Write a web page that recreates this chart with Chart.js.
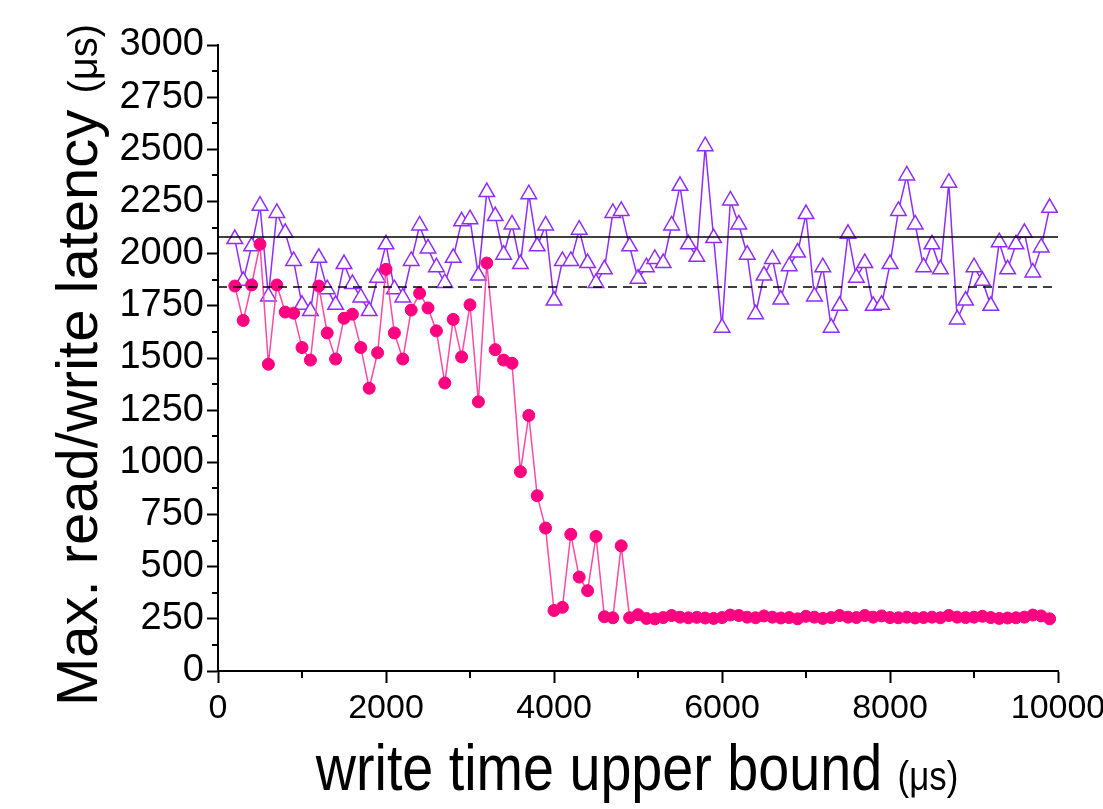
<!DOCTYPE html>
<html>
<head>
<meta charset="utf-8">
<script src="https://cdn.jsdelivr.net/npm/chart.js@4.4.1/dist/chart.umd.min.js"></script>
<style>
  html, body { margin: 0; padding: 0; background: #fff; }
  #wrap { width: 1103px; height: 809px; }
</style>
</head>
<body>
<div id="wrap"><canvas id="graph" width="1103" height="809"></canvas></div>
<script>
// write time upper bound (us)
const writeBound = [
  200, 300, 400, 500, 600, 700, 800, 900, 1000, 1100,
  1200, 1300, 1400, 1500, 1600, 1700, 1800, 1900, 2000, 2100,
  2200, 2300, 2400, 2500, 2600, 2700, 2800, 2900, 3000, 3100,
  3200, 3300, 3400, 3500, 3600, 3700, 3800, 3900, 4000, 4100,
  4200, 4300, 4400, 4500, 4600, 4700, 4800, 4900, 5000, 5100,
  5200, 5300, 5400, 5500, 5600, 5700, 5800, 5900, 6000, 6100,
  6200, 6300, 6400, 6500, 6600, 6700, 6800, 6900, 7000, 7100,
  7200, 7300, 7400, 7500, 7600, 7700, 7800, 7900, 8000, 8100,
  8200, 8300, 8400, 8500, 8600, 8700, 8800, 8900, 9000, 9100,
  9200, 9300, 9400, 9500, 9600, 9700, 9800, 9900
];

// open triangles (purple)
const triLatency = [
  2070, 1870, 2035, 2230, 1795, 2195, 2100, 1965, 1755, 1725,
  1980, 1830, 1755, 1950, 1855, 1790, 1725, 1885, 2045, 1830,
  1790, 1965, 2135, 2025, 1935, 1860, 1980, 2155, 2165, 1895,
  2295, 2180, 1995, 2140, 1950, 2285, 2035, 2135, 1775, 1965,
  1965, 2115, 1955, 1860, 1925, 2195, 2205, 2035, 1880, 1935,
  1975, 1955, 2135, 2325, 2045, 1985, 2515, 2075, 1645, 2255,
  2140, 1995, 1710, 1895, 1975, 1780, 1940, 2005, 2190, 1795,
  1935, 1645, 1750, 2095, 1885, 1955, 1750, 1755, 1950, 2205,
  2375, 2140, 1935, 2045, 1925, 2340, 1685, 1775, 1935, 1870,
  1750, 2055, 1925, 2045, 2100, 1910, 2030, 2220
];

// filled circles (pink)
const dotLatency = [
  1845, 1680, 1850, 2045, 1470, 1850, 1720, 1715, 1550, 1490,
  1845, 1620, 1495, 1690, 1710, 1550, 1355, 1525, 1925, 1620,
  1495, 1730, 1810, 1740, 1630, 1380, 1685, 1505, 1755, 1290,
  1955, 1540, 1490, 1475, 955, 1225, 840, 685, 290, 305,
  655, 450, 385, 645, 260, 255, 600, 255, 270, 252,
  250, 256, 266, 258, 255, 257, 254, 252, 256, 268,
  266, 258, 255, 264, 258, 254, 256, 250, 262, 258,
  252, 256, 266, 258, 256, 266, 258, 264, 256, 255,
  258, 254, 256, 258, 255, 266, 258, 256, 258, 262,
  256, 252, 254, 255, 258, 268, 264, 250
];

// reference levels
const refRange = [0, 10000];
const solidLevel = 2080;
const dashedLevel = 1840;

const yMinorTicks = [125, 375, 625, 875, 1125, 1375, 1625, 1875, 2125, 2375, 2625, 2875];
const xMinorTicks = [1000, 3000, 5000, 7000, 9000];

const PURPLE = '#8f2dfc';
const PINK = '#ff0080';
const PINK_LINE = '#ff4aa5';
const SANS = "'Liberation Sans', Arial, sans-serif";

function toPoints(xs, ys) {
  return xs.map((x, i) => ({ x: x, y: ys[i] }));
}

const minorTicks = {
  id: 'minorTicks',
  afterDraw(chart) {
    const ctx = chart.ctx;
    const xs = chart.scales.x, ys = chart.scales.y;
    const area = chart.chartArea;
    ctx.save();
    ctx.strokeStyle = '#000';
    ctx.lineWidth = 2;
    ctx.beginPath();
    yMinorTicks.forEach(v => {
      const py = Math.round(ys.getPixelForValue(v));
      ctx.moveTo(area.left - 6, py);
      ctx.lineTo(area.left, py);
    });
    xMinorTicks.forEach(v => {
      const px = Math.round(xs.getPixelForValue(v));
      ctx.moveTo(px, area.bottom);
      ctx.lineTo(px, area.bottom + 7);
    });
    ctx.stroke();
    ctx.restore();
  }
};

// axis titles with a smaller unit part; sx squeezes the text horizontally
function mixedText(ctx, parts, cx, cy, rotate, sx) {
  ctx.save();
  ctx.translate(cx, cy);
  if (rotate) ctx.rotate(-Math.PI / 2);
  ctx.scale(sx, 1);
  ctx.fillStyle = '#000';
  ctx.textBaseline = 'alphabetic';
  ctx.textAlign = 'left';
  let total = 0;
  parts.forEach(p => { ctx.font = p.font; p.w = ctx.measureText(p.text).width; total += p.w; });
  let x = -total / 2;
  parts.forEach(p => { ctx.font = p.font; ctx.fillText(p.text, x, 0); x += p.w; });
  ctx.restore();
}

const axisTitles = {
  id: 'axisTitles',
  afterDraw(chart) {
    const ctx = chart.ctx;
    mixedText(ctx, [
      { text: 'write time upper bound ', font: '64px ' + SANS },
      { text: '(\u03bcs)', font: '40px ' + SANS }
    ], 637, 790, false, 0.87);
    mixedText(ctx, [
      { text: 'Max. read/write latency ', font: '58px ' + SANS },
      { text: '(\u03bcs)', font: '40px ' + SANS }
    ], 97, 365, true, 1);
  }
};

new Chart(document.getElementById('graph'), {
  type: 'line',
  data: {
    datasets: [
      {
        label: 'solid',
        data: toPoints(refRange, [solidLevel, solidLevel]),
        borderColor: '#000',
        borderWidth: 1.5,
        pointRadius: 0,
        fill: false
      },
      {
        label: 'dashed',
        data: toPoints(refRange, [dashedLevel, dashedLevel]),
        borderColor: '#000',
        borderWidth: 1.5,
        borderDash: [9, 6],
        pointRadius: 0,
        fill: false
      },
      {
        label: 'circles',
        data: toPoints(writeBound, dotLatency),
        borderColor: PINK_LINE,
        borderWidth: 1.5,
        pointStyle: 'circle',
        pointRadius: 6,
        pointBackgroundColor: PINK,
        pointBorderColor: PINK,
        pointBorderWidth: 1,
        tension: 0,
        fill: false
      },
      {
        label: 'triangles',
        data: toPoints(writeBound, triLatency),
        borderColor: PURPLE,
        borderWidth: 1.5,
        pointStyle: 'triangle',
        pointRadius: 9,
        pointBackgroundColor: '#fff',
        pointBorderColor: PURPLE,
        pointBorderWidth: 1.5,
        tension: 0,
        fill: false
      }
    ]
  },
  options: {
    responsive: false,
    animation: false,
    devicePixelRatio: 1,
    layout: { padding: { left: 0, top: 45, right: 45, bottom: 0 } },
    plugins: {
      legend: { display: false },
      tooltip: { enabled: false }
    },
    scales: {
      x: {
        type: 'linear',
        min: 0,
        max: 10000,
        border: { display: true, color: '#000', width: 2 },
        grid: { display: true, drawOnChartArea: false, drawTicks: true, tickLength: 12, tickColor: '#000', tickWidth: 2 },
        ticks: {
          stepSize: 2000,
          color: '#000',
          padding: 5,
          maxRotation: 0,
          autoSkip: false,
          font: { family: SANS, size: 34 },
          callback: v => String(v)
        },
        afterFit(scale) {
          scale.height = 138;
          scale.paddingLeft = 0;
          scale.paddingRight = 0;
        }
      },
      y: {
        min: 0,
        max: 3000,
        border: { display: true, color: '#000', width: 2 },
        grid: { display: true, drawOnChartArea: false, drawTicks: true, tickLength: 11, tickColor: '#000', tickWidth: 2 },
        ticks: {
          stepSize: 250,
          color: '#000',
          padding: 3,
          autoSkip: false,
          font: { family: SANS, size: 38 },
          callback: v => String(v)
        },
        afterFit(scale) {
          scale.width = 218;
          scale.paddingTop = 0;
          scale.paddingBottom = 0;
        }
      }
    }
  },
  plugins: [minorTicks, axisTitles]
});
</script>
</body>
</html>
